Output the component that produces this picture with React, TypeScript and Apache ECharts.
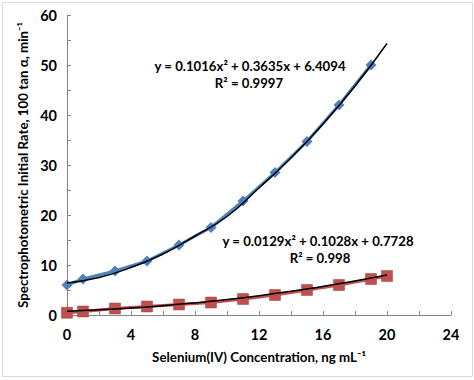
import React, { useEffect, useRef } from "react";
import * as echarts from "echarts";

const seleniumX = [0, 1, 3, 5, 7, 9, 11, 13, 15, 17, 19];
const rateBlue = [6.0, 7.2, 8.8, 10.8, 14.0, 17.5, 22.8, 28.5, 34.7, 42.0, 50.0];
const seleniumXRed = [0, 1, 3, 5, 7, 9, 11, 13, 15, 17, 19, 20];
const rateRed = [0.45, 0.7, 1.3, 1.7, 2.1, 2.5, 3.2, 4.0, 5.0, 6.0, 7.2, 7.8];
const trendX = [0, 2, 4, 6, 8, 10, 12, 14, 16, 18, 20];
const trendBlue = [6.4, 7.5, 9.5, 12.2, 15.8, 19.7, 25.4, 31.4, 38.2, 45.8, 54.3];
const trendRed = [0.77, 1.03, 1.39, 1.85, 2.42, 3.09, 3.86, 4.74, 5.72, 6.80, 7.99];
const eqBlue = ["y = 0.1016x² + 0.3635x + 6.4094", "R² = 0.9997"];
const eqRed = ["y = 0.0129x² + 0.1028x + 0.7728", "R² = 0.998"];

const FONT = "Lato, 'Open Sans', sans-serif";

export default function App() {
  const ref = useRef<HTMLDivElement>(null);
  useEffect(() => {
    document.body.style.margin = "0";
    const chart = echarts.init(ref.current!, null, { renderer: "svg" });
    const pair = (xs: number[], ys: number[]) => xs.map((x, i) => [x, ys[i]]);
    const eqStyle = { fontFamily: FONT, fontWeight: "bold", fontSize: 13.2, fill: "#000", align: "center", verticalAlign: "middle" };
    chart.setOption({
      animation: false,
      backgroundColor: "#ffffff",
      textStyle: { fontFamily: FONT },
      grid: { left: 67, right: 23, top: 15, bottom: 65 },
      xAxis: {
        type: "value",
        min: 0,
        max: 24,
        interval: 4,
        name: "Selenium(IV) Concentration, ng mL⁻¹",
        nameLocation: "middle",
        nameGap: 35,
        nameTextStyle: { fontFamily: FONT, fontWeight: "bold", fontSize: 13.3, color: "#000" },
        axisLine: { lineStyle: { color: "#868686", width: 1 } },
        axisTick: { inside: true, length: 4, lineStyle: { color: "#868686" } },
        minorTick: { show: true, splitNumber: 2, length: 4, lineStyle: { color: "#868686" } },
        axisLabel: { fontFamily: FONT, fontWeight: "bold", fontSize: 14.5, color: "#000", margin: 12 },
        splitLine: { show: false },
      },
      yAxis: {
        type: "value",
        min: 0,
        max: 60,
        interval: 10,
        name: "Spectrophotometric Initial Rate, 100 tan α, min⁻¹",
        nameLocation: "middle",
        nameGap: 34,
        nameTextStyle: { fontFamily: FONT, fontWeight: "bold", fontSize: 13.3, color: "#000" },
        axisLine: { show: true, lineStyle: { color: "#868686", width: 1 } },
        axisTick: { show: true, inside: true, length: 4, lineStyle: { color: "#868686" } },
        minorTick: { show: true, splitNumber: 2, length: 4, lineStyle: { color: "#868686" } },
        axisLabel: { fontFamily: FONT, fontWeight: "bold", fontSize: 14.5, color: "#000", margin: 10 },
        splitLine: { show: false },
      },
      series: [
        {
          type: "line",
          data: pair(seleniumX, rateBlue),
          symbol: "diamond",
          symbolSize: 11,
          itemStyle: { color: "#4F81BD" },
          lineStyle: { color: "#4F81BD", width: 3 },
          z: 2,
        },
        {
          type: "line",
          data: pair(trendX, trendBlue),
          smooth: true,
          showSymbol: false,
          lineStyle: { color: "#000", width: 1.5 },
          z: 3,
        },
        {
          type: "line",
          data: pair(seleniumXRed, rateRed),
          symbol: "rect",
          symbolSize: 11,
          itemStyle: { color: "#C0504D", borderColor: "#A0403D", borderWidth: 0.5 },
          lineStyle: { color: "#C0504D", width: 3 },
          z: 2,
        },
        {
          type: "line",
          data: pair(trendX, trendRed),
          smooth: true,
          showSymbol: false,
          lineStyle: { color: "#000", width: 1.5 },
          z: 3,
        },
      ],
      graphic: [
        {
          type: "rect",
          shape: { x: 2.5, y: 2.5, width: 470, height: 374 },
          style: { fill: "none", stroke: "#d9d9d9", lineWidth: 1 },
          silent: true,
        },
        { type: "text", x: 250, y: 66, style: { ...eqStyle, text: eqBlue[0] } },
        { type: "text", x: 249, y: 83, style: { ...eqStyle, text: eqBlue[1] } },
        { type: "text", x: 318, y: 241, style: { ...eqStyle, text: eqRed[0] } },
        { type: "text", x: 320, y: 258, style: { ...eqStyle, text: eqRed[1] } },
      ],
    });
    return () => chart.dispose();
  }, []);
  return <div ref={ref} style={{ width: 474, height: 380 }} />;
}
